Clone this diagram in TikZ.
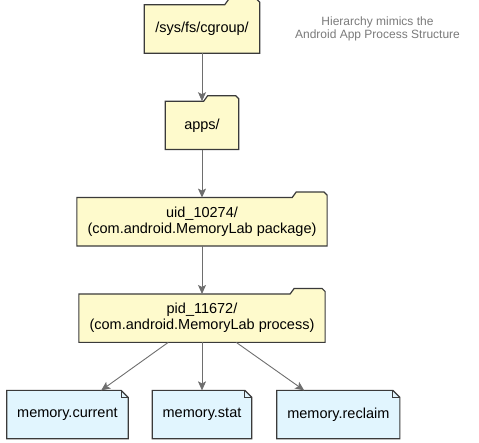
\documentclass[tikz,border=0pt]{standalone}
\usepackage{fontspec}
\setmainfont{Liberation Sans}
\usetikzlibrary{positioning}
\usetikzlibrary{arrows.meta}
\usetikzlibrary{backgrounds}

\definecolor{foldfill}{HTML}{FEFACC}
\definecolor{notefill}{HTML}{E1F5FE}
\definecolor{boxline}{HTML}{3A3A3A}
\definecolor{edgegray}{HTML}{6E6E6E}
\definecolor{hintgray}{HTML}{7A7A7A}

\tikzset{
  folder/.style={minimum height=48pt, inner xsep=10.5pt, align=center,
    font=\fontsize{14.5}{16}\selectfont},
  memfile/.style={minimum height=48pt, inner xsep=10.3pt,
    font=\fontsize{14.5}{16}\selectfont},
  hint/.style={align=center, text=hintgray, font=\fontsize{12}{13}\selectfont},
  outline/.style={draw=boxline, line width=1.2pt, line join=miter},
  link/.style={draw=edgegray, line width=0.9pt,
    -{Stealth[length=9pt,width=8pt,inset=2pt]}}
}

\begin{document}
\begin{tikzpicture}[x=1pt,y=1pt]
\useasboundingbox (0,0) rectangle (479,443);

% folders
\node[folder, minimum width=115pt] (cgroup) at (202,414) {/sys/fs/cgroup/};
\node[folder, minimum width=73pt, below=48pt of cgroup] (apps) {apps/};
\node[folder, below=48pt of apps] (uid) {uid\_10274/\\(com.android.MemoryLab package)};
\node[folder, below=48pt of uid] (pid) {pid\_11672/\\(com.android.MemoryLab process)};

% files
\node[memfile, below=48pt of pid] (stat) {memory.stat};
\node[memfile, left=24pt of stat] (current) {memory.current};
\node[memfile, right=25pt of stat] (reclaim) {memory.reclaim};

\node[hint] (remark) at (377.5,414.5) {Hierarchy mimics the\\Android App Process Structure};

\begin{scope}[on background layer]
\foreach \n in {cgroup,apps,uid,pid} {
  \draw[outline, fill=foldfill] (\n.south west) -- (\n.north west)
    -- ([xshift=-35pt]\n.north east) -- ++(4pt,5.5pt)
    -- ([xshift=-3pt,yshift=5.5pt]\n.north east) -- ([yshift=2.5pt]\n.north east)
    -- (\n.south east) -- cycle;
}
\foreach \n in {current,stat,reclaim} {
  \draw[outline, fill=notefill] (\n.south west) -- (\n.north west)
    -- ([xshift=-7pt]\n.north east) -- ([yshift=-7pt]\n.north east)
    -- (\n.south east) -- cycle;
  \draw[outline, line width=0.9pt] ([xshift=-7pt]\n.north east) |- ([yshift=-7pt]\n.north east);
}
\end{scope}

% links
\draw[link] (cgroup) -- (apps);
\draw[link] (apps) -- (uid);
\draw[link] (uid) -- (pid);
\draw[link] (pid) -- (current);
\draw[link] (pid) -- (stat);
\draw[link] (pid) -- (reclaim);
\end{tikzpicture}
\end{document}
